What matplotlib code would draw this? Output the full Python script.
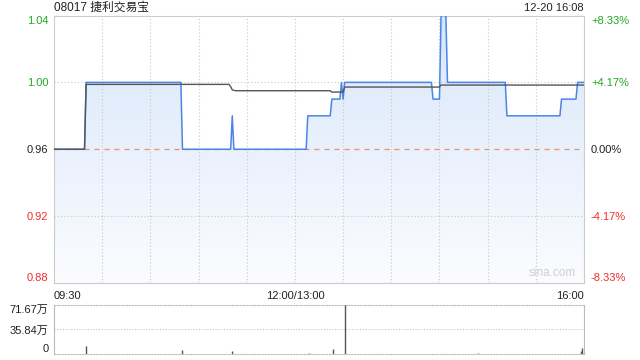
import matplotlib
matplotlib.use("Agg")
import matplotlib.pyplot as plt
import numpy as np
from matplotlib.colors import LinearSegmentedColormap

plt.rcParams['font.family'] = ['Liberation Sans', 'Noto Sans CJK SC', 'DejaVu Sans']

# ---- data (minutes since 09:30; 150 = 12:00/13:00, 330 = 16:00) ----
title = "08017 捷利交易宝"
stamp = "12-20 16:08"
prev_close = 0.96
price_t = [0, 19, 20, 79, 80, 110, 111, 112, 157, 158, 172, 173, 178, 179, 180, 181,
           235, 236, 240, 241, 244, 245, 281, 282, 315, 316, 325, 326, 330]
price_v = [0.96, 0.96, 1.00, 1.00, 0.96, 0.96, 0.98, 0.96, 0.96, 0.98, 0.98, 0.99, 0.99, 1.00, 0.99, 1.00,
           1.00, 0.99, 0.99, 1.04, 1.04, 1.00, 1.00, 0.98, 0.98, 0.99, 0.99, 1.00, 1.00]
avg_t = [0, 19, 20, 109, 110, 111, 113, 172, 173, 180, 181, 240, 241, 330]
avg_v = [0.96, 0.96, 0.9988, 0.9988, 0.9975, 0.9955, 0.9950, 0.9950, 0.9942, 0.9942,
         0.9972, 0.9972, 0.9984, 0.9984]
vol_t = [20, 80, 111, 159, 174, 181, 264, 328, 329]
vol_v = [11.0, 6.0, 4.4, 1.5, 7.7, 71.67, 2.0, 5.0, 8.5]   # 万
price_ticks = [0.88, 0.92, 0.96, 1.00, 1.04]
price_labels = ["0.88", "0.92", "0.96", "1.00", "1.04"]
pct_labels = ["-8.33%", "-4.17%", "0.00%", "+4.17%", "+8.33%"]
vol_ticks = [0, 35.84, 71.67]
vol_labels = ["0", "35.84万", "71.67万"]
time_pos = [0, 150, 330]
time_labels = ["09:30", "12:00/13:00", "16:00"]

GREEN = "#22a822"
RED = "#f02c2c"
DARK = "#222222"
GRID = "#c8c8c8"
BLUE = "#4a86e8"

fig = plt.figure(figsize=(6.4, 3.6), dpi=100)
W, H = 640, 360
L, R = 54, 584
ax = fig.add_axes([L / W, 1 - 283 / H, (R - L) / W, (283 - 15.5) / H])
axv = fig.add_axes([L / W, 1 - 354 / H, (R - L) / W, (354 - 305) / H])

ax.set_xlim(0, 330)
ax.set_ylim(0.88, 1.04)

# gradient fill under price line
poly = ax.fill_between(price_t, price_v, 0.88, color="none", lw=0)
cmap = LinearSegmentedColormap.from_list("g", ["#fbfcff", "#d8e6fa"])
grad = np.linspace(0, 1, 256).reshape(-1, 1)
im = ax.imshow(grad, cmap=cmap, aspect="auto", extent=[0, 330, 0.88, 1.04],
               origin="lower", zorder=1)
im.set_clip_path(poly.get_paths()[0], transform=ax.transData)

# grid
for t in range(30, 330, 30):
    ax.axvline(t, color=GRID, lw=0.8, ls=(0, (1, 2)), zorder=2)
for yv in [0.92, 1.00]:
    ax.axhline(yv, color=GRID, lw=0.8, ls=(0, (1, 2)), zorder=2)
ax.axhline(prev_close, color="#e89070", lw=0.9, ls=(0, (4, 4)), zorder=2)

ax.plot(price_t, price_v, color=BLUE, lw=1.1, zorder=4)
ax.plot(avg_t, avg_v, color="#555555", lw=1.0, zorder=5)

for s in ax.spines.values():
    s.set_color("#cccccc")
    s.set_linewidth(0.8)

ax.set_xticks([])
ax.set_yticks(price_ticks)
ax.set_yticklabels(price_labels)
ax.tick_params(axis="y", length=0, pad=4, labelsize=8)
cols = [RED, RED, DARK, GREEN, GREEN]
for lab, c in zip(ax.get_yticklabels(), cols):
    lab.set_color(c)
labs = ax.get_yticklabels()
labs[0].set_va("bottom")
labs[-1].set_va("top")

ax2 = ax.twinx()
ax2.set_ylim(0.88, 1.04)
ax2.set_yticks(price_ticks)
ax2.set_yticklabels(pct_labels)
ax2.tick_params(axis="y", length=0, pad=5, labelsize=8)
for lab, c in zip(ax2.get_yticklabels(), cols):
    lab.set_color(c)
labs2 = ax2.get_yticklabels()
labs2[0].set_va("bottom")
labs2[-1].set_va("top")
for s in ax2.spines.values():
    s.set_visible(False)

ax.text(0.985, 0.015, "sina.com", transform=ax.transAxes, ha="right", va="bottom",
        fontsize=8.5, color="#cfcfcf", zorder=6)

# time labels
for p, tl in zip(time_pos, time_labels):
    ha = "left" if p == 0 else ("right" if p == 330 else "center")
    ax.text(p, -0.03, tl, transform=ax.get_xaxis_transform(), ha=ha, va="top",
            fontsize=8, color=DARK)

# title and stamp
fig.text(L / W, 1 - 8 / H, title, ha="left", va="center", fontsize=8.5, color=DARK)
fig.text(R / W, 1 - 8 / H, stamp, ha="right", va="center", fontsize=8, color=DARK)

# volume
axv.set_xlim(0, 330)
axv.set_ylim(0, 71.67)
axv.vlines(vol_t, 0, vol_v, color="#555555", lw=1.0, zorder=3)
axv.axhline(35.84, color=GRID, lw=0.8, ls=(0, (1, 1.5)), zorder=1)
axv.set_xticks([])
axv.set_yticks(vol_ticks)
axv.set_yticklabels(vol_labels)
axv.tick_params(axis="y", length=0, pad=4, labelsize=8, labelcolor=DARK)
vl = axv.get_yticklabels()
vl[0].set_va("bottom")
vl[-1].set_va("top")
axv.spines["top"].set_linestyle((0, (1, 1.5)))
axv.spines["bottom"].set_linestyle((0, (1, 1.5)))
for s in axv.spines.values():
    s.set_color("#bbbbbb")
    s.set_linewidth(0.8)

fig.savefig("out.png", dpi=100)
